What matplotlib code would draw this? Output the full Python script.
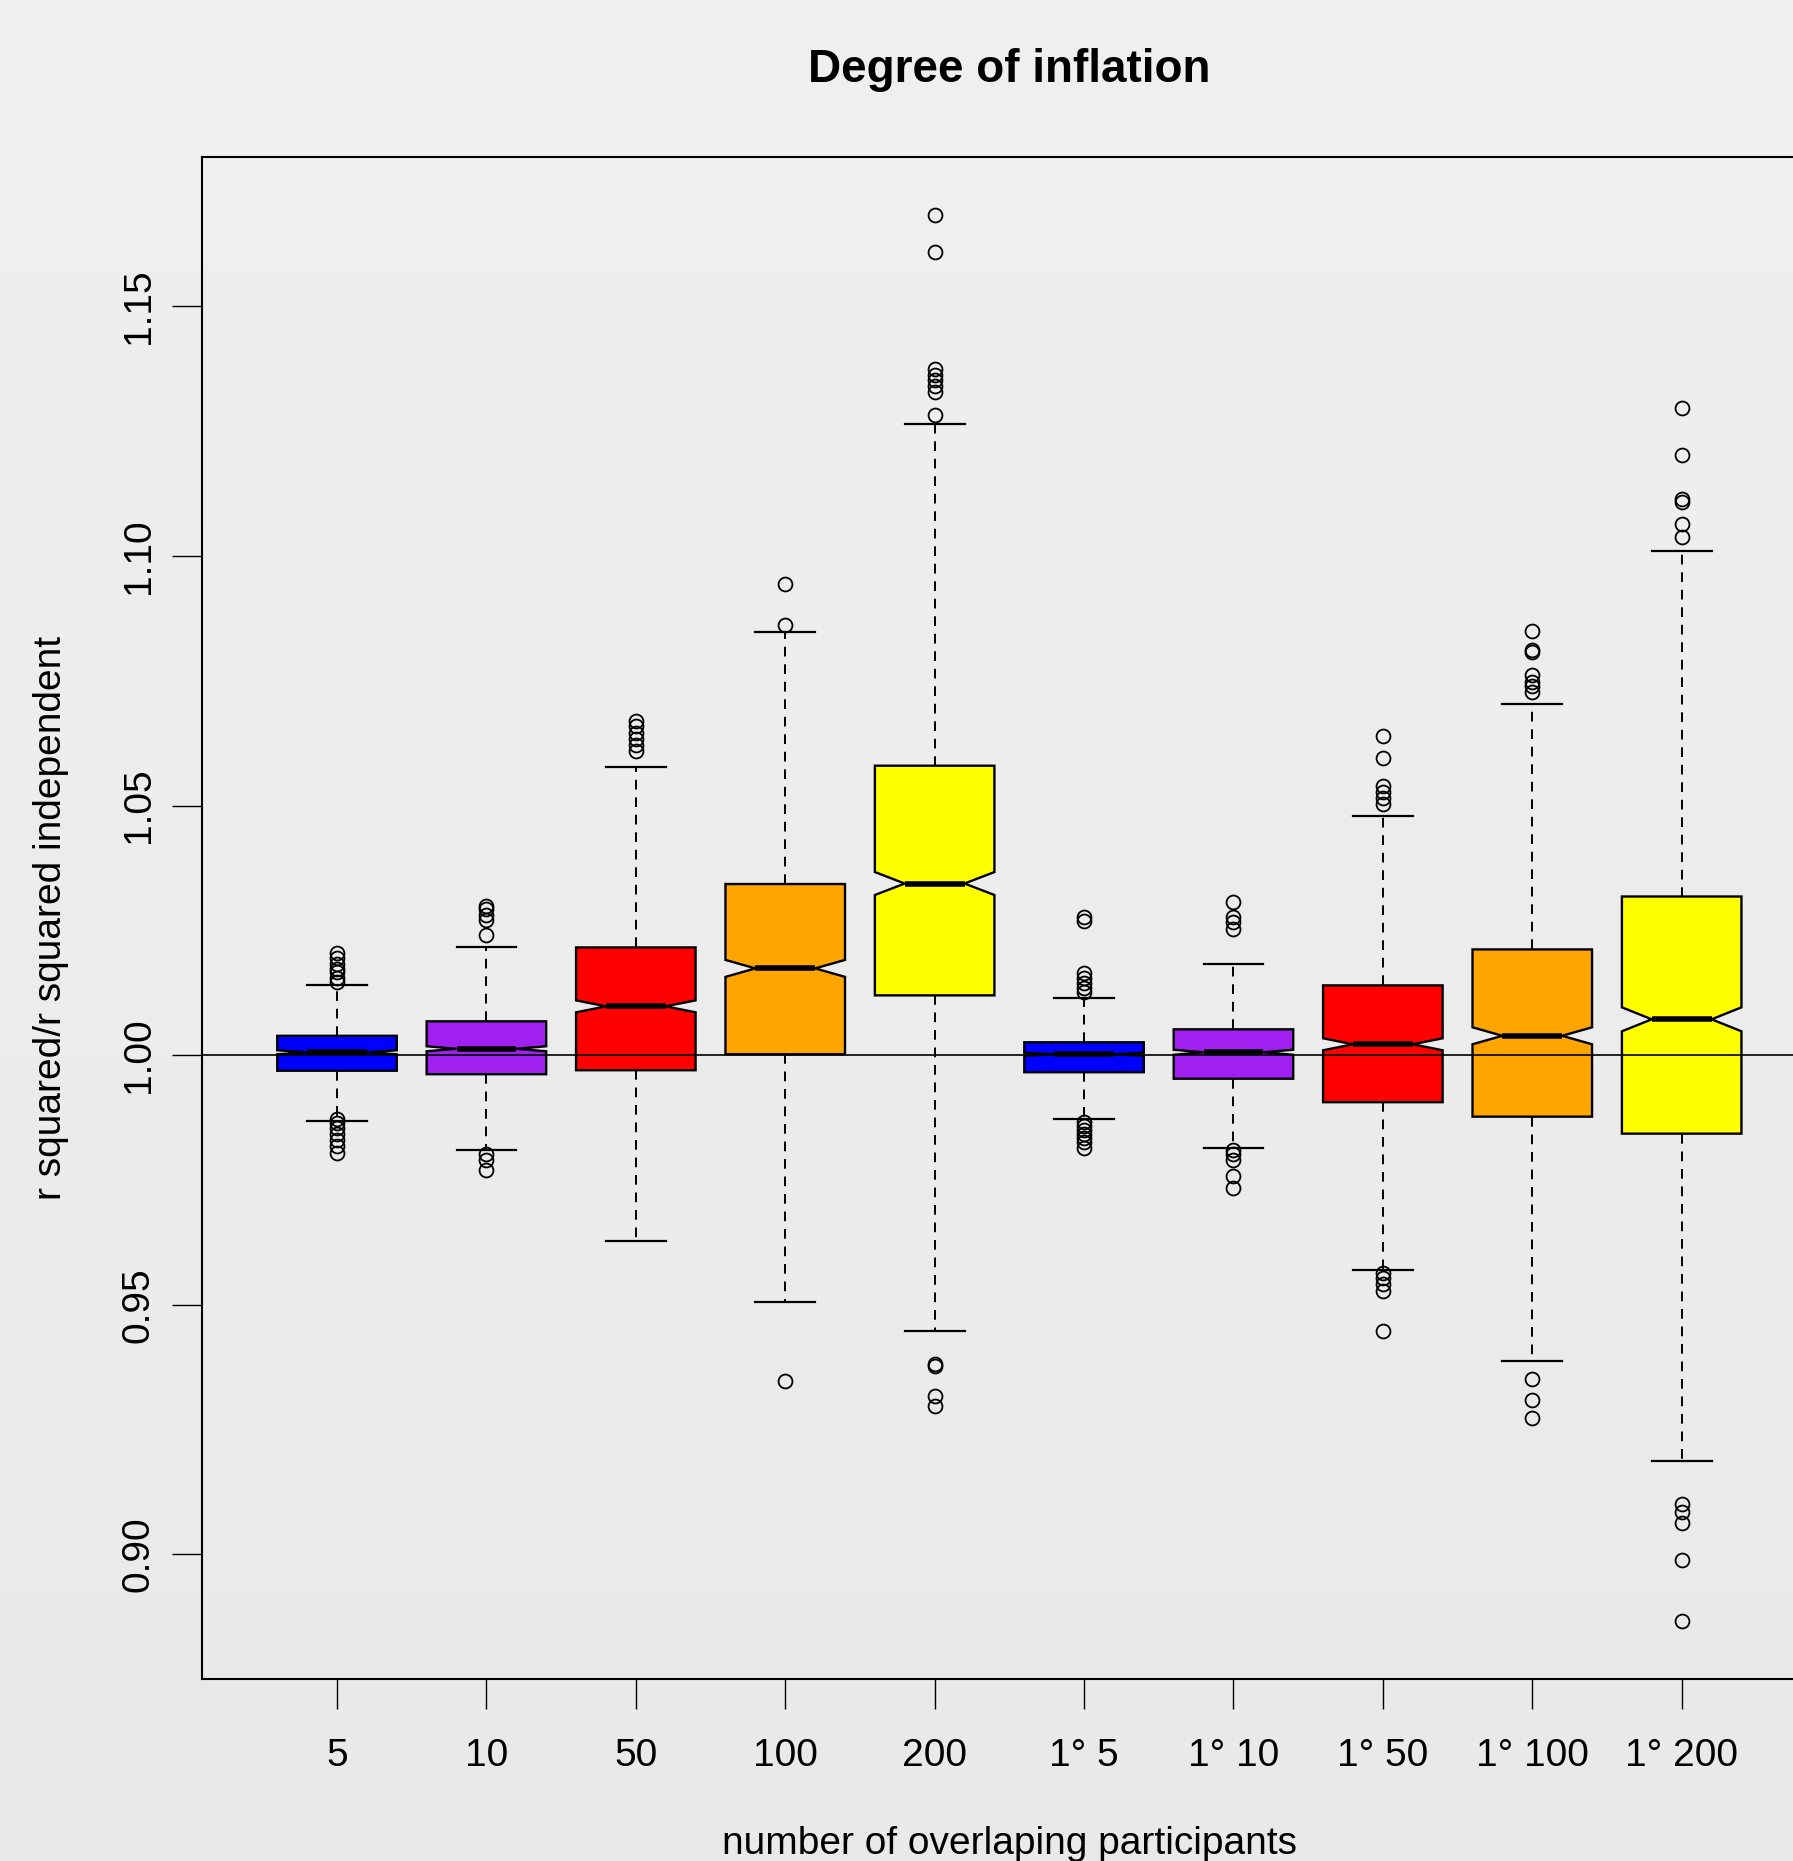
import numpy as np
import matplotlib
matplotlib.use("Agg")
import matplotlib.pyplot as plt
from matplotlib.colors import LinearSegmentedColormap

# ---------------- data ----------------
categories = ["5", "10", "50", "100", "200", "1° 5", "1° 10", "1° 50", "1° 100", "1° 200"]
box_colors = ["#0000FF", "#A020F0", "#FF0000", "#FFA500", "#FFFF00",
              "#0000FF", "#A020F0", "#FF0000", "#FFA500", "#FFFF00"]

medians = [1.0006, 1.0013, 1.0098, 1.0174, 1.0344, 1.0002, 1.0006, 1.0022, 1.0039, 1.0072]
q1 = [0.9969, 0.9962, 0.9970, 1.0002, 1.0120, 0.9966, 0.9953, 0.9906, 0.9877, 0.9843]
q3 = [1.0039, 1.0068, 1.0216, 1.0343, 1.0580, 1.0026, 1.0052, 1.0140, 1.0212, 1.0318]
whislo = [0.9869, 0.9810, 0.9628, 0.9506, 0.9447, 0.9873, 0.9814, 0.9570, 0.9387, 0.9188]
whishi = [1.0140, 1.0216, 1.0578, 1.0848, 1.1264, 1.0115, 1.0182, 1.0480, 1.0703, 1.1010]
cilo = [1.0002, 1.0008, 1.0086, 1.0157, 1.0321, 0.9999, 1.0001, 1.0010, 1.0022, 1.0048]
cihi = [1.0010, 1.0018, 1.0110, 1.0191, 1.0367, 1.0005, 1.0011, 1.0034, 1.0056, 1.0096]

fliers_hi = [
    [1.0204, 1.0195, 1.0183, 1.0173, 1.0166, 1.0154, 1.0147],
    [1.0299, 1.0292, 1.0280, 1.0271, 1.0240],
    [1.0670, 1.0660, 1.0646, 1.0634, 1.0622, 1.0610],
    [1.0943, 1.0862],
    [1.1684, 1.1610, 1.1375, 1.1363, 1.1352, 1.1340, 1.1328, 1.1283],
    [1.0276, 1.0268, 1.0164, 1.0154, 1.0145, 1.0135, 1.0126],
    [1.0307, 1.0277, 1.0267, 1.0252],
    [1.0639, 1.0596, 1.0539, 1.0527, 1.0515, 1.0504],
    [1.0850, 1.0812, 1.0808, 1.0762, 1.0748, 1.0739, 1.0727],
    [1.1297, 1.1202, 1.1114, 1.1109, 1.1064, 1.1038],
]
fliers_lo = [
    [0.9872, 0.9865, 0.9855, 0.9843, 0.9831, 0.9819, 0.9805],
    [0.9803, 0.9791, 0.9770],
    [],
    [0.9347],
    [0.9382, 0.9378, 0.9318, 0.9297],
    [0.9866, 0.9858, 0.9851, 0.9843, 0.9835, 0.9826, 0.9815],
    [0.9810, 0.9803, 0.9791, 0.9758, 0.9734],
    [0.9563, 0.9553, 0.9541, 0.9527, 0.9447],
    [0.9352, 0.9309, 0.9273],
    [0.9102, 0.9086, 0.9064, 0.8988, 0.8867],
]

yticks = [0.90, 0.95, 1.00, 1.05, 1.10, 1.15]
ytick_labels = ["0.90", "0.95", "1.00", "1.05", "1.10", "1.15"]
title = "Degree of inflation"
xlabel = "number of overlaping participants"
ylabel = "r squared/r squared independent"

# ---------------- figure ----------------
W, H = 1793, 1861
DPI = 100
plt.rcParams["font.family"] = ["Liberation Sans", "DejaVu Sans"]
fig = plt.figure(figsize=(W / DPI, H / DPI), dpi=DPI)

def fx(px):
    return px / W

def fy(py):
    return 1 - py / H

# gradient background
bg = fig.add_axes([0, 0, 1, 1], zorder=-10)
cmap = LinearSegmentedColormap.from_list("bg", ["#f0f0f0", "#e9e9e9"])
bg.imshow(np.linspace(0, 1, 256).reshape(-1, 1), aspect="auto", cmap=cmap,
          extent=[0, 1, 0, 1], origin="upper")
bg.axis("off")

ax_left, ax_right, ax_top, ax_bot = 202, 1816, 157, 1679
ax = fig.add_axes([fx(ax_left), fy(ax_bot), fx(ax_right) - fx(ax_left), fy(ax_top) - fy(ax_bot)])
ax.set_facecolor("none")

stats = []
for i in range(len(categories)):
    stats.append(dict(med=medians[i], q1=q1[i], q3=q3[i], whislo=whislo[i], whishi=whishi[i],
                      cilo=cilo[i], cihi=cihi[i], fliers=fliers_hi[i] + fliers_lo[i]))

positions = np.arange(1, len(categories) + 1)
bp = ax.bxp(stats, positions=positions, widths=0.8, capwidths=0.4, shownotches=True,
            patch_artist=True,
            boxprops=dict(linewidth=1.7, edgecolor="black"),
            whiskerprops=dict(linewidth=1.4, linestyle=(0, (5, 4)), color="black"),
            capprops=dict(linewidth=1.6, color="black"),
            medianprops=dict(linewidth=4.0, color="black", solid_capstyle="butt"),
            flierprops=dict(marker="o", markerfacecolor="none", markeredgecolor="black",
                            markersize=10, markeredgewidth=1.3, linestyle="none"))
for patch, c in zip(bp["boxes"], box_colors):
    patch.set_facecolor(c)

ax.axhline(1.0, color="black", linewidth=1.2, zorder=5)

ax.set_xlim(0.0964, 10.899)
ax.set_ylim(0.87506, 1.17993)
ax.set_xticks(positions)
ax.set_xticklabels(categories, fontsize=28)
ax.set_yticks(yticks)
ax.set_yticklabels(ytick_labels, fontsize=28, rotation=90, va="center")
ax.tick_params(axis="both", direction="out", length=21.6, width=1.0, color="black")
ax.tick_params(axis="x", pad=21)
ax.tick_params(axis="y", pad=11)
for s in ax.spines.values():
    s.set_linewidth(1.5)

fig.text(fx(1009), fy(82), title, fontsize=33, fontweight="bold", ha="center", va="baseline")
fig.text(fx(1009), fy(1826), xlabel, fontsize=28, ha="center", va="top")
fig.text(fx(51), fy(918), ylabel, fontsize=28, ha="center", va="center", rotation=90)

fig.savefig("out.png", dpi=DPI)
